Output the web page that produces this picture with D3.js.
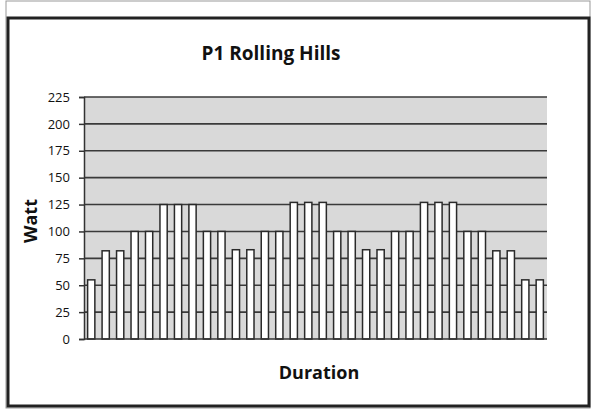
<!DOCTYPE html>
<html>
<head>
<meta charset="utf-8">
<script src="https://cdn.jsdelivr.net/npm/d3@7"></script>
<style>
    body { margin: 0; background: #fff; }
    .axis text { font-family: "Open Sans", sans-serif; font-size: 13px; fill: #111; }
    .label { font-family: "Open Sans", sans-serif; font-weight: bold; fill: #111; }
</style>
</head>
<body>
<div id="chart-area"></div>
<script>

// Data: one bar per interval of the ride
var categories = d3.range(1, 33).map(function(d) { return "Int " + d; });
var watts = [55, 82, 82, 100, 100, 125, 125, 125, 100, 100,
             83, 83, 100, 100, 127, 127, 127, 100, 100, 83,
             83, 100, 100, 127, 127, 127, 100, 100, 82, 82,
             55, 55];
var yTicks = [0, 25, 50, 75, 100, 125, 150, 175, 200, 225];

var chartTitle = "P1 Rolling Hills",
    yTitle = "Watt",
    xTitle = "Duration";

var data = categories.map(function(c, i) { return { name: c, value: watts[i] }; });

var margin = { top: 97, right: 46, bottom: 71, left: 84 };
var width = 593 - margin.left - margin.right,
    height = 410 - margin.top - margin.bottom;

var svg = d3.select("#chart-area").append("svg")
    .attr("width", 593)
    .attr("height", 410);

// outer frames
svg.append("rect")
    .attr("x", 6).attr("y", 1)
    .attr("width", 584).attr("height", 407)
    .attr("fill", "none")
    .attr("stroke", "#999")
    .attr("stroke-width", 1);

svg.append("rect")
    .attr("x", 8).attr("y", 18)
    .attr("width", 581).attr("height", 388)
    .attr("fill", "none")
    .attr("stroke", "#222")
    .attr("stroke-width", 3);

var g = svg.append("g")
    .attr("transform", "translate(" + margin.left + "," + margin.top + ")");

// Scales and axes
var x = d3.scaleBand()
    .domain(categories)
    .range([0, width])
    .paddingInner(0.5)
    .paddingOuter(0.25);

var y = d3.scaleLinear()
    .domain([0, 225])
    .range([height, 0]);

// plot area background
g.append("rect")
    .attr("width", width)
    .attr("height", height)
    .attr("fill", "#d9d9d9");

// gridlines
g.selectAll(".grid")
    .data(yTicks.slice(1))
    .enter().append("line")
    .attr("class", "grid")
    .attr("x1", 0)
    .attr("x2", width)
    .attr("y1", function(d) { return y(d); })
    .attr("y2", function(d) { return y(d); })
    .attr("stroke", "#3a3a3a")
    .attr("stroke-width", 1.6);

// bars
g.selectAll(".bar")
    .data(data)
    .enter().append("rect")
    .attr("class", "bar")
    .attr("x", function(d) { return x(d.name); })
    .attr("y", function(d) { return y(d.value); })
    .attr("width", x.bandwidth())
    .attr("height", function(d) { return height - y(d.value); })
    .attr("fill", "#fff")
    .attr("stroke", "#2a2a2a")
    .attr("stroke-width", 1.5);

var yAxis = d3.axisLeft(y)
    .tickValues(yTicks)
    .tickSize(5)
    .tickPadding(9);

var yg = g.append("g")
    .attr("class", "y-axis axis")
    .call(yAxis);
yg.selectAll("path, line").attr("stroke", "#333").attr("stroke-width", 1.5);

// baseline
g.append("line")
    .attr("x1", 0).attr("x2", width)
    .attr("y1", height).attr("y2", height)
    .attr("stroke", "#333")
    .attr("stroke-width", 1.5);

// titles
svg.append("text")
    .attr("class", "label")
    .attr("x", 271)
    .attr("y", 60)
    .attr("text-anchor", "middle")
    .style("font-size", "19px")
    .text(chartTitle);

svg.append("text")
    .attr("class", "label")
    .attr("transform", "translate(37,221) rotate(-90)")
    .attr("text-anchor", "middle")
    .style("font-size", "18px")
    .text(yTitle);

svg.append("text")
    .attr("class", "label")
    .attr("x", 319)
    .attr("y", 379)
    .attr("text-anchor", "middle")
    .style("font-size", "18px")
    .text(xTitle);

</script>
</body>
</html>
